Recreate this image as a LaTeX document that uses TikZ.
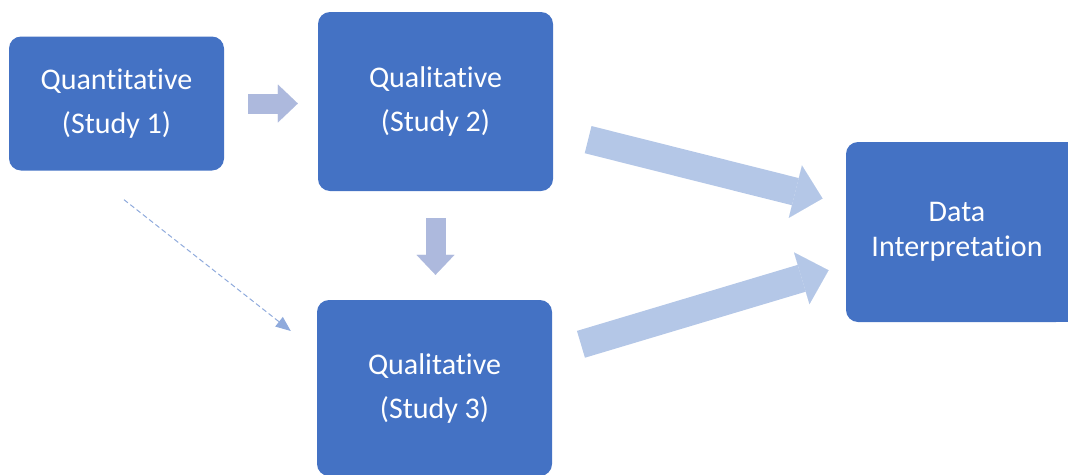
\documentclass[tikz,border=0pt]{standalone}
\usepackage{fontspec}
\setmainfont{Carlito}[Ligatures=NoCommon]
\usetikzlibrary{arrows.meta}
\definecolor{boxblue}{HTML}{4472C4}
\definecolor{bigarrow}{HTML}{B4C7E7}
\definecolor{smallarrow}{HTML}{ADB9DD}
\definecolor{dashblue}{HTML}{8FAADC}
\begin{document}
\begin{tikzpicture}[x=1pt,y=-1pt,
  study/.style={fill=boxblue, rounded corners=12pt, text=white, align=center, inner sep=0pt, font=\fontsize{30}{44}\selectfont},
  bigflow/.style={draw=bigarrow, line width=28pt, -{Triangle[length=28pt,width=54pt,line width=0.01pt]}},
  smallflow/.style={draw=smallarrow, line width=20pt, -{Triangle[length=20pt,width=38pt,line width=0.01pt]}},
  feedback/.style={draw=dashblue, line width=1pt, dash pattern=on 5pt off 3pt, -{Triangle[length=15pt,width=12pt]}}]
\clip (0,0) rectangle (1068,474);
\node[study, minimum width=215pt, minimum height=134pt] (b1) at (116.5,103.5) {Quantitative\\(Study 1)};
\node[study, minimum width=235pt, minimum height=179pt] (b2) at (435.5,101.5) {Qualitative\\(Study 2)};
\node[study, minimum width=235pt, minimum height=176pt] (b3) at (434.5,388) {Qualitative\\(Study 3)};
\node[study, minimum width=222pt, minimum height=180pt, font=\fontsize{30}{35}\selectfont] (b4) at (957,232) {Data\\Interpretation};
\fill[boxblue] ([xshift=-16pt]b4.north east) rectangle ([xshift=4pt]b4.south east);
% small arrows
\draw[smallflow, shorten <=24pt, shorten >=20pt] (b1.east) -- (b1.east -| b2.west);
\draw[smallflow, shorten <=27pt, shorten >=25pt] (b2.south) -- (b2.south |- b3.north);
% dashed connector
\coordinate (d1) at ([xshift=7.5pt, yshift=-29pt]b1.south);
\coordinate (d2) at ([xshift=-26pt, yshift=57pt]b3.west);
\draw[feedback] (d1) -- (d2);
% big arrows
\draw[bigflow, shorten <=36pt, shorten >=24pt] (b2) -- (b4);
\draw[bigflow, shorten <=30pt, shorten >=18pt] (b3) -- (b4);
\end{tikzpicture}
\end{document}
